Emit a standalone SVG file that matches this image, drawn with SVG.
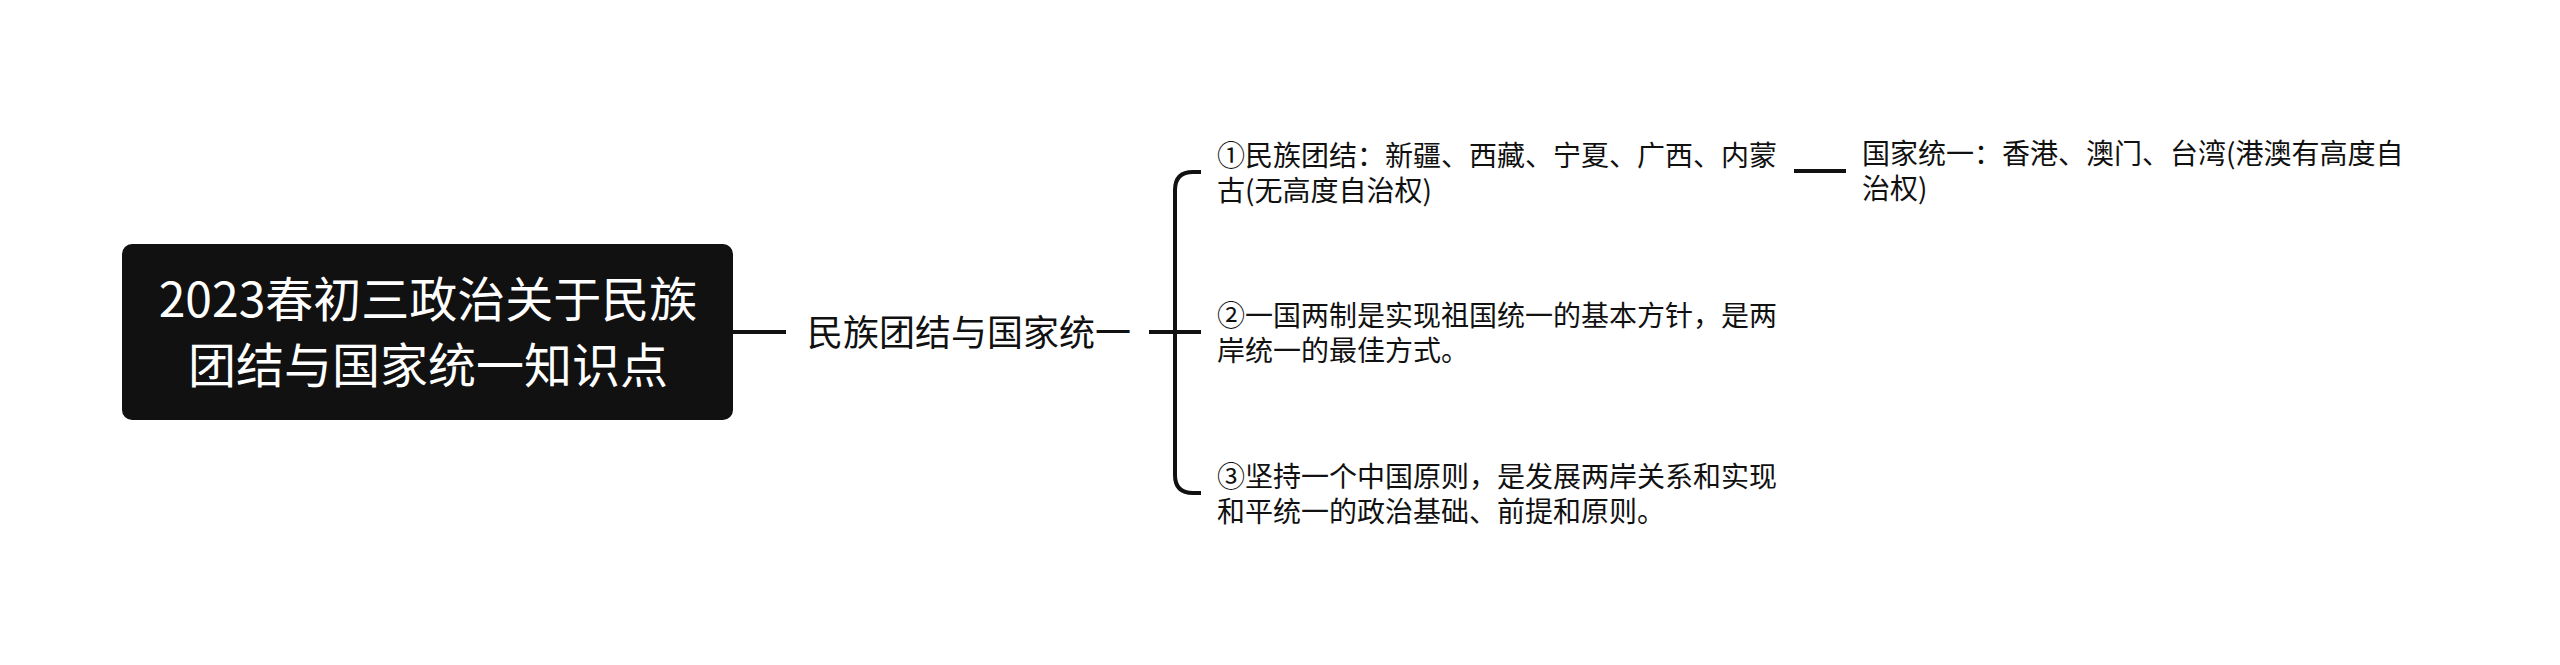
<svg xmlns="http://www.w3.org/2000/svg" width="2560" height="665" viewBox="0 0 2560 665">
<style>
.t{font-family:"Noto Sans CJK SC","Noto Sans",sans-serif;fill:#111}
.root{font-size:48px;fill:#fff;text-anchor:middle}
.main{font-size:36px}
.br{font-size:28px}
.c{fill:none;stroke:#111;stroke-width:4;stroke-linecap:butt}
</style>
<rect width="2560" height="665" fill="#fff"/>
<g id="connectors">
<line class="c" x1="733" y1="332" x2="786" y2="332"/>
<line class="c" x1="1149" y1="332" x2="1175" y2="332"/>
<path class="c" d="M1201 172 H1193 Q1175 172 1175 190 V475 Q1175 493 1193 493 H1201"/>
<line class="c" x1="1175" y1="332" x2="1201" y2="332"/>
<line class="c" x1="1794" y1="171" x2="1846" y2="171"/>
</g>
<g id="root">
<rect x="122" y="244" width="611" height="176" rx="10" fill="#111"/>
<text class="t root" x="428" y="317">2023春初三政治关于民族</text>
<text class="t root" x="428" y="383">团结与国家统一知识点</text>
</g>
<g id="main">
<text class="t main" x="807" y="346">民族团结与国家统一</text>
</g>
<g id="branch1">
<text class="t br" x="1217" y="166">①民族团结：新疆、西藏、宁夏、广西、内蒙</text>
<text class="t br" x="1217" y="201">古(无高度自治权)</text>
</g>
<g id="branch2">
<text class="t br" x="1217" y="326">②一国两制是实现祖国统一的基本方针，是两</text>
<text class="t br" x="1217" y="361">岸统一的最佳方式。</text>
</g>
<g id="branch3">
<text class="t br" x="1217" y="487">③坚持一个中国原则，是发展两岸关系和实现</text>
<text class="t br" x="1217" y="522">和平统一的政治基础、前提和原则。</text>
</g>
<g id="sub1">
<text class="t br" x="1862" y="164">国家统一：香港、澳门、台湾(港澳有高度自</text>
<text class="t br" x="1862" y="199">治权)</text>
</g>
</svg>
